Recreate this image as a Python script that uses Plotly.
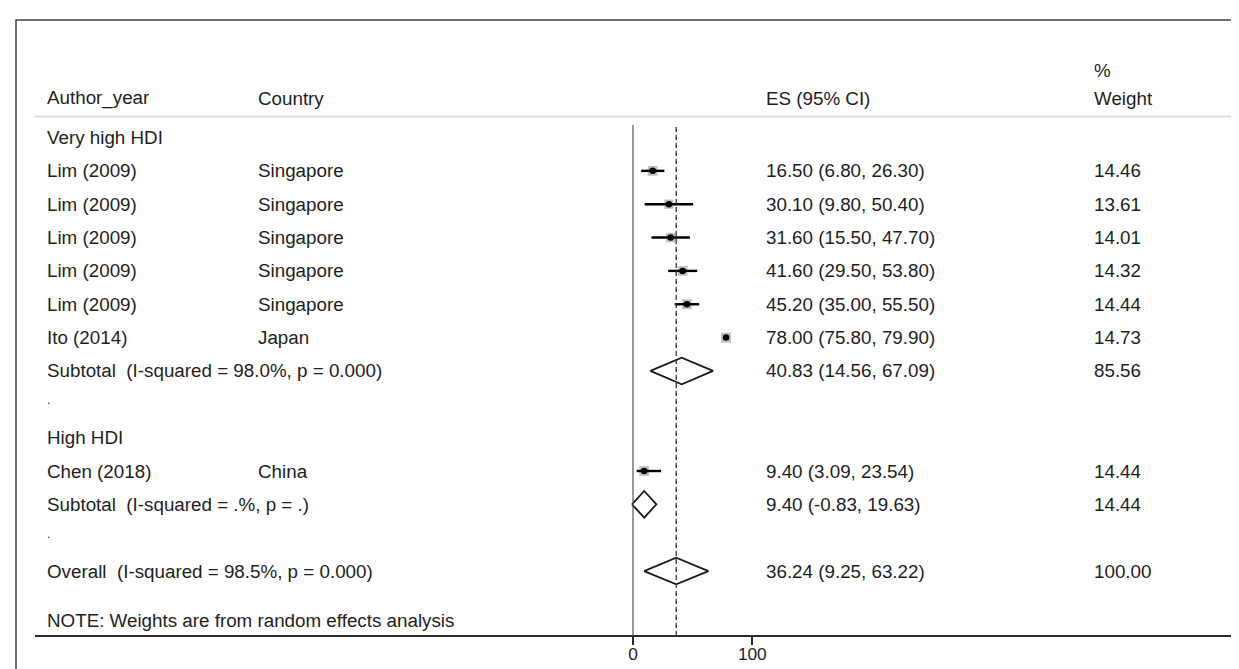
import plotly.graph_objects as go

# ---------------- data ----------------
study_labels = ["Lim (2009)", "Lim (2009)", "Lim (2009)", "Lim (2009)", "Lim (2009)", "Ito (2014)", "Chen (2018)"]
study_countries = ["Singapore", "Singapore", "Singapore", "Singapore", "Singapore", "Japan", "China"]
study_es = [16.50, 30.10, 31.60, 41.60, 45.20, 78.00, 9.40]
study_lo = [6.80, 9.80, 15.50, 29.50, 35.00, 75.80, 3.09]
study_hi = [26.30, 50.40, 47.70, 53.80, 55.50, 79.90, 23.54]
study_weight = [14.46, 13.61, 14.01, 14.32, 14.44, 14.73, 14.44]
study_rows = [1, 2, 3, 4, 5, 6, 10]

summary_labels = ["Subtotal  (I-squared = 98.0%, p = 0.000)",
                  "Subtotal  (I-squared = .%, p = .)",
                  "Overall  (I-squared = 98.5%, p = 0.000)"]
summary_es = [40.83, 9.40, 36.24]
summary_lo = [14.56, -0.83, 9.25]
summary_hi = [67.09, 19.63, 63.22]
summary_weight = [85.56, 14.44, 100.00]
summary_rows = [7, 11, 13]

group_labels = ["Very high HDI", "High HDI"]
group_rows = [0, 9]
spacer_rows = [8, 12]

header_cols = ["Author_year", "Country", "ES (95% CI)", "Weight"]
note_text = "NOTE: Weights are from random effects analysis"
x_ticks = [0, 100]
overall_es = 36.24

# ---------------- geometry (pixel based) ----------------
W, H = 1239, 669
PX_ZERO, PX_PER_UNIT = 625.0, 1.193
ROW0_PX, ROW_PX = 129.5, 33.35

def v_of_px(px):
    return (px - PX_ZERO) / PX_PER_UNIT

def row_of_px(py):
    return (py - ROW0_PX) / ROW_PX

def xp(px):
    return px / W

FONT = "Liberation Sans, Arial, sans-serif"
FS = 18.8
TXT = "#1e1e1e"

AX_L, AX_R = 27, 1227
axis_row = row_of_px(628)

fig = go.Figure()

# weight boxes
fig.add_trace(go.Scatter(
    x=study_es, y=study_rows, mode="markers",
    marker=dict(symbol="square", size=[w * 0.68 for w in study_weight], color="#a6a6a6", line=dict(width=0)),
    hoverinfo="skip", showlegend=False))

# CI lines + point estimate
fig.add_trace(go.Scatter(
    x=study_es, y=study_rows, mode="markers",
    marker=dict(symbol="circle", size=6.5, color="#000000"),
    error_x=dict(type="data", symmetric=False,
                 array=[h - e for h, e in zip(study_hi, study_es)],
                 arrayminus=[e - l for e, l in zip(study_es, study_lo)],
                 thickness=2.4, width=0, color="#000000"),
    hoverinfo="skip", showlegend=False))

# diamonds
hd = 0.40
for e, l, h, r in zip(summary_es, summary_lo, summary_hi, summary_rows):
    fig.add_trace(go.Scatter(
        x=[l, e, h, e, l], y=[r, r - hd, r, r + hd, r], mode="lines",
        line=dict(color="#1a1a1a", width=1.8), hoverinfo="skip", showlegend=False))

shapes = []
# border (top + left visible)
shapes.append(dict(type="rect", xref="paper", yref="paper",
                   x0=xp(8), x1=1.02, y0=-0.03, y1=1 - 12 / H,
                   line=dict(color="#444444", width=1.5)))
# header separator
shapes.append(dict(type="line", xref="paper", yref="y",
                   x0=xp(27), x1=xp(1230), y0=row_of_px(108.5), y1=row_of_px(108.5),
                   line=dict(color="#d4d4d4", width=1.5)))
# null line
shapes.append(dict(type="line", xref="x", yref="y", x0=0, x1=0,
                   y0=row_of_px(117), y1=axis_row, line=dict(color="#555555", width=1.2)))
# overall effect dashed line
shapes.append(dict(type="line", xref="x", yref="y", x0=overall_es, x1=overall_es,
                   y0=row_of_px(119), y1=axis_row, line=dict(color="#333333", width=1.3, dash="5px,3px")))

ann = []
def add_text(txt, px, row, size=FS):
    ann.append(dict(text=txt, xref="paper", yref="y", x=xp(px), y=row,
                    xanchor="left", yanchor="middle", showarrow=False,
                    font=dict(family=FONT, size=size, color=TXT)))

hdr_row = row_of_px(90)
pct_row = row_of_px(62)
COL_AUTH, COL_CTRY, COL_ES, COL_W = 37, 248, 756, 1084
for t, px in zip(header_cols, [COL_AUTH, COL_CTRY, COL_ES, COL_W]):
    add_text(t, px, hdr_row)
add_text("%", COL_W, pct_row)

for t, r in zip(group_labels, group_rows):
    add_text(t, COL_AUTH, r)
for r in spacer_rows:
    add_text(".", COL_AUTH, r - 0.12, size=12)

for lab, c, e, l, h, w, r in zip(study_labels, study_countries, study_es, study_lo, study_hi, study_weight, study_rows):
    add_text(lab, COL_AUTH, r)
    add_text(c, COL_CTRY, r)
    add_text(f"{e:.2f} ({l:.2f}, {h:.2f})", COL_ES, r)
    add_text(f"{w:.2f}", COL_W, r)

for lab, e, l, h, w, r in zip(summary_labels, summary_es, summary_lo, summary_hi, summary_weight, summary_rows):
    add_text(lab.replace("  ", " \u00a0"), COL_AUTH, r)
    add_text(f"{e:.2f} ({l:.2f}, {h:.2f})", COL_ES, r)
    add_text(f"{w:.2f}", COL_W, r)

add_text(note_text, COL_AUTH, row_of_px(612))

fig.update_layout(
    width=W, height=H,
    margin=dict(l=0, r=0, t=0, b=0),
    paper_bgcolor="white", plot_bgcolor="white",
    shapes=shapes, annotations=ann,
    xaxis=dict(domain=[AX_L / W, AX_R / W], range=[v_of_px(AX_L), v_of_px(AX_R)],
               anchor="free", position=1 - 628 / H,
               showline=True, linecolor="#2a2a2a", linewidth=2,
               ticks="outside", ticklen=8, tickwidth=1.5, tickcolor="#2a2a2a",
               tickvals=x_ticks, ticktext=[str(t) for t in x_ticks],
               ticklabelstandoff=-6,
               tickfont=dict(family=FONT, size=FS - 1.5, color=TXT),
               showgrid=False, zeroline=False, automargin=False, fixedrange=True),
    yaxis=dict(domain=[0, 1], range=[row_of_px(H), row_of_px(0)],
               visible=False, showgrid=False, zeroline=False, automargin=False, fixedrange=True),
    showlegend=False,
)

fig.write_html("out.html")
